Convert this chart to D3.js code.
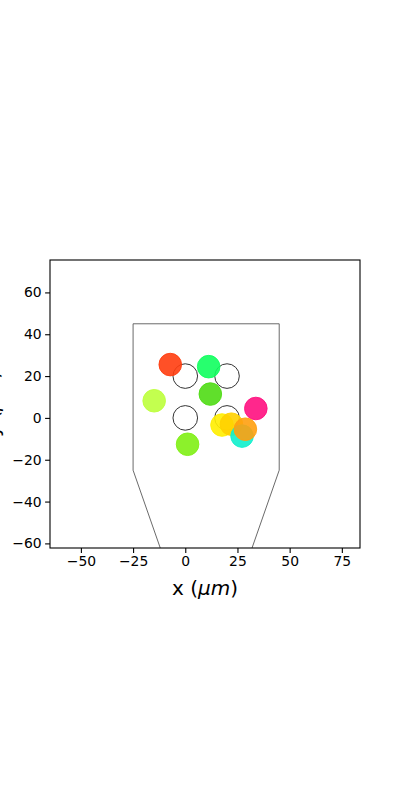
<!DOCTYPE html>
<html>
<head>
<meta charset="utf-8">
<script src="https://cdn.jsdelivr.net/npm/d3@7"></script>
<style>
  body { margin: 0; background: #fff; }
  svg { display: block; font-family: "DejaVu Sans", sans-serif; }
</style>
</head>
<body>
<div id="chart"></div>
<script>
// recording sites (open circles)
var siteX = [0, 20, 0, 20];
var siteY = [20, 20, 0, 0];

// estimated unit positions (coloured dots), drawn in this order
var unitX = [-7.2, 11.2, 12.0, -14.9, 33.8, 17.6, 22.1, 27.2, 28.8, 1.1];
var unitY = [25.5, 24.5, 11.4, 8.2, 4.5, -3.4, -3.0, -8.7, -5.4, -12.6];
var unitColors = ["#ff3d10", "#10ff5e", "#4fdc14", "#bdff3c", "#ff1080", "#ffee00",
                  "#ffd000", "#10f0cc", "#ffa010", "#7fef14"];

// probe outline
var probeX = [-25, 45, 45, 10, -25];
var probeY = [45, 45, -25, -125, -25];

var xTicks = [-50, -25, 0, 25, 50, 75];
var yTicks = [-60, -40, -20, 0, 20, 40, 60];

var width = 400, height = 800;
var margin = {top: 260, left: 50, right: 40, bottom: 252};
var innerW = width - margin.left - margin.right,
    innerH = height - margin.top - margin.bottom;

var svg = d3.select("#chart").append("svg")
    .attr("width", width)
    .attr("height", height);

var g = svg.append("g")
    .attr("transform", "translate(" + margin.left + "," + margin.top + ")");

var x = d3.scaleLinear().domain([-64.8, 83.7]).range([0, innerW]);
var y = d3.scaleLinear().domain([-62.2, 75.5]).range([innerH, 0]);

g.append("clipPath").attr("id", "clip")
  .append("rect").attr("width", innerW).attr("height", innerH);

var plot = g.append("g").attr("clip-path", "url(#clip)");

// probe shape
var probe = probeX.map(function(d, i) { return [x(d), y(probeY[i])]; });
plot.append("path")
    .attr("d", d3.line()(probe) + "Z")
    .attr("fill", "none")
    .attr("stroke", "#444")
    .attr("stroke-width", 0.8);

// sites
plot.selectAll(".site")
    .data(siteX)
    .enter().append("circle")
    .attr("class", "site")
    .attr("cx", function(d) { return x(d); })
    .attr("cy", function(d, i) { return y(siteY[i]); })
    .attr("r", 12.3)
    .attr("fill", "none")
    .attr("stroke", "#333")
    .attr("stroke-width", 1);

// units
plot.selectAll(".unit")
    .data(unitX)
    .enter().append("circle")
    .attr("class", "unit")
    .attr("cx", function(d) { return x(d); })
    .attr("cy", function(d, i) { return y(unitY[i]); })
    .attr("r", 11.3)
    .attr("fill", function(d, i) { return unitColors[i]; })
    .attr("fill-opacity", 0.9)
    .attr("stroke", function(d, i) { return unitColors[i]; })
    .attr("stroke-opacity", 0.9)
    .attr("stroke-width", 1);

// axes
var xAxis = g.append("g")
    .attr("transform", "translate(0," + innerH + ")")
    .call(d3.axisBottom(x).tickValues(xTicks).tickSize(4.9).tickPadding(3.5)
        .tickFormat(function(d) { return d < 0 ? "\u2212" + (-d) : d; }));
var yAxis = g.append("g")
    .call(d3.axisLeft(y).tickValues(yTicks).tickSize(4.9).tickPadding(3.5)
        .tickFormat(function(d) { return d < 0 ? "\u2212" + (-d) : d; }));

[xAxis, yAxis].forEach(function(a) {
    a.select(".domain").remove();
    a.selectAll("text").attr("font-size", 13.9).attr("font-family", "DejaVu Sans").attr("fill", "#000");
    a.selectAll("line").attr("stroke", "#000").attr("stroke-width", 1.1);
});

g.append("rect")
    .attr("width", innerW)
    .attr("height", innerH)
    .attr("fill", "none")
    .attr("stroke", "#000")
    .attr("stroke-width", 1.1);

// axis labels
var xl = svg.append("text")
    .attr("x", margin.left + innerW / 2)
    .attr("y", 595)
    .attr("text-anchor", "middle")
    .attr("font-size", 20);
xl.append("tspan").text("x (");
xl.append("tspan").attr("font-style", "italic").text("\u03bcm");
xl.append("tspan").text(")");

// y label sits mostly off the left edge, as in the original figure
var yl = svg.append("text")
    .attr("transform", "translate(-1," + (margin.top + innerH / 2) + ") rotate(-90)")
    .attr("text-anchor", "middle")
    .attr("font-size", 20);
yl.append("tspan").text("y (");
yl.append("tspan").attr("font-style", "italic").text("\u03bcm");
yl.append("tspan").text(")");
</script>
</body>
</html>
